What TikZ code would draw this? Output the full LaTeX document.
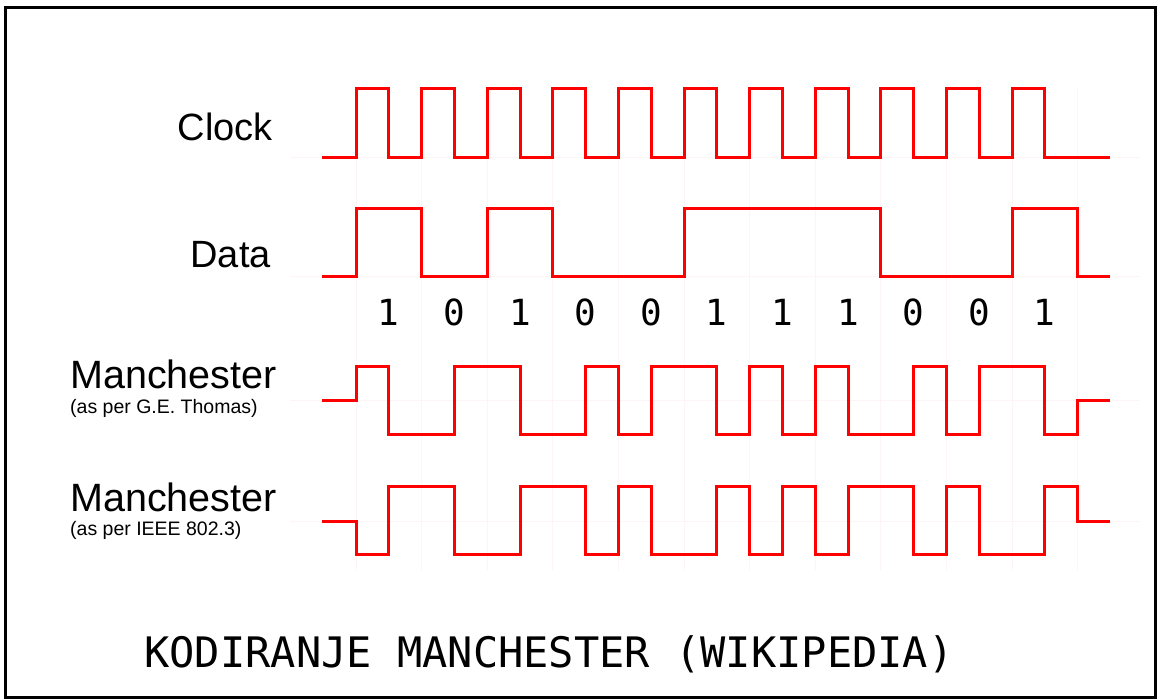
\documentclass[tikz,border=0pt]{standalone}
\usepackage{fontspec}
\setmainfont{Liberation Sans}
\newfontfamily\monofont{DejaVu Sans Mono}
\definecolor{wave}{RGB}{255,0,0}
\definecolor{gridc}{RGB}{253,245,245}
\begin{document}
\begin{tikzpicture}[x=1pt,y=-1pt,
  wavestyle/.style={draw=wave,line width=3pt,line join=miter},
  gridline/.style={draw=gridc,line width=1pt},
  biglabel/.style={anchor=base east,inner sep=0pt,font=\fontsize{38}{40}\selectfont},
  manlabel/.style={anchor=base west,inner sep=0pt,font=\fontsize{39.5}{41}\selectfont},
  sublabel/.style={anchor=base west,inner sep=0pt,font=\fontsize{19.5}{21}\selectfont},
  digit/.style={anchor=base,inner sep=0pt,font=\monofont\fontsize{36}{38}\selectfont},
  titlestyle/.style={anchor=base,inner sep=0pt,font=\monofont\fontsize{42}{44}\selectfont}]
\useasboundingbox (0,0) rectangle (1158,699);
\fill[white] (0,0) rectangle (1158,699);
% faint grid
\foreach \i in {0,...,11}{
  \draw[gridline] ({356+65.6*\i},88) -- ({356+65.6*\i},570);
}
\foreach \yy in {157,276,400,521}{
  \draw[gridline] (290,\yy) -- (1140,\yy);
}
% border
\draw[line width=3pt] (5.5,7.5) rectangle (1155.5,697.5);
% labels
\node[biglabel] (clk) at (273,140) {Clock};
\node[biglabel] (dat) at (271,267) {Data};
\node[manlabel] (m1) at (70,388) {Manchester};
\node[sublabel] (s1) at (70,413) {(as per G.E. Thomas)};
\node[manlabel] (m2) at (70,511) {Manchester};
\node[sublabel] (s2) at (70,535) {(as per IEEE 802.3)};
% clock
\draw[wavestyle] (322,157) -- (356,157)
  \foreach \i in {0,...,10}{
    -- ({356+65.6*\i},157) -- ({356+65.6*\i},88) -- ({388.8+65.6*\i},88) -- ({388.8+65.6*\i},157)
  } -- (1110,157);
% data  1 0 1 0 0 1 1 1 0 0 1
\draw[wavestyle] (322,276) -- (356,276) -- (356,208) -- (421.6,208) -- (421.6,276)
  -- (487.2,276) -- (487.2,208) -- (552.8,208) -- (552.8,276) -- (684,276) -- (684,208)
  -- (880.8,208) -- (880.8,276) -- (1012,276) -- (1012,208) -- (1077.6,208) -- (1077.6,276)
  -- (1110,276);
% bits
\foreach \b [count=\k from 0] in {1,0,1,0,0,1,1,1,0,0,1}{
  \node[digit] (d\k) at ({388.8+65.6*\k},325) {\b};
}
% Manchester (G.E. Thomas)
\draw[wavestyle] (322,400) -- (356,400) -- (356,366) -- (388.8,366) -- (388.8,434)
  -- (454.4,434) -- (454.4,366) -- (520,366) -- (520,434) -- (585.6,434) -- (585.6,366)
  -- (618.4,366) -- (618.4,434) -- (651.2,434) -- (651.2,366) -- (716.8,366) -- (716.8,434)
  -- (749.6,434) -- (749.6,366) -- (782.4,366) -- (782.4,434) -- (815.2,434) -- (815.2,366)
  -- (848,366) -- (848,434) -- (913.6,434) -- (913.6,366) -- (946.4,366) -- (946.4,434)
  -- (979.2,434) -- (979.2,366) -- (1044.8,366) -- (1044.8,434) -- (1077.6,434) -- (1077.6,400)
  -- (1110,400);
% Manchester (IEEE 802.3)
\draw[wavestyle] (322,521) -- (356,521) -- (356,554) -- (388.8,554) -- (388.8,486)
  -- (454.4,486) -- (454.4,554) -- (520,554) -- (520,486) -- (585.6,486) -- (585.6,554)
  -- (618.4,554) -- (618.4,486) -- (651.2,486) -- (651.2,554) -- (716.8,554) -- (716.8,486)
  -- (749.6,486) -- (749.6,554) -- (782.4,554) -- (782.4,486) -- (815.2,486) -- (815.2,554)
  -- (848,554) -- (848,486) -- (913.6,486) -- (913.6,554) -- (946.4,554) -- (946.4,486)
  -- (979.2,486) -- (979.2,554) -- (1044.8,554) -- (1044.8,486) -- (1077.6,486) -- (1077.6,521)
  -- (1110,521);
% title
\node[titlestyle] (title) at (549,667) {KODIRANJE MANCHESTER (WIKIPEDIA)};
\end{tikzpicture}
\end{document}
